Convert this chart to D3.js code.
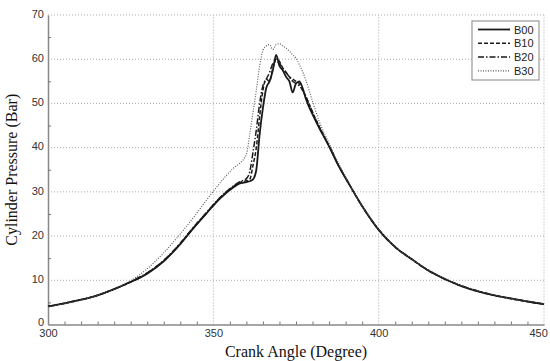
<!DOCTYPE html>
<html>
  <body style="margin:0">
    <style>
      body { background: #fff; }
      .tick text { font-family: "Liberation Sans", Arial, sans-serif; font-size: 11px; fill: #333; }
    </style>
    <script src="https://d3js.org/d3.v7.min.js"></script>
    <script type="text/javascript">
      const width = 550;
      const height = 361;
      const margin = { top: 15, right: 6, bottom: 36.5, left: 48 };

      const angles = [300, 305, 310, 315, 320, 325, 330, 335, 340, 344, 348, 352, 356, 358, 360, 361, 362, 363, 364, 365,
        366, 367, 368, 369, 370, 371, 372, 373, 374, 375, 376, 377, 378, 380, 382, 385, 388, 391, 395, 400,
        405, 410, 415, 420, 425, 430, 435, 440, 445, 450];

      const b00 = [4.1, 4.8, 5.6, 6.6, 8.0, 9.6, 11.5, 14.3, 18.2, 21.8, 25.2, 28.5, 31.0, 31.9, 32.2, 32.4, 32.8, 35.0, 43.0, 49.0,
        53.5, 55.0, 57.5, 61.0, 58.5, 57.5, 56.0, 55.0, 52.5, 54.5, 55.0, 53.5, 51.0, 47.5, 44.5, 40.3, 35.7, 31.8, 26.8, 21.4,
        17.5, 14.8, 12.2, 10.3, 8.7, 7.5, 6.6, 5.9, 5.2, 4.6];
      const b10 = [4.1, 4.8, 5.6, 6.6, 8.0, 9.6, 11.6, 14.4, 18.3, 21.9, 25.3, 28.6, 31.2, 32.1, 32.5, 32.8, 36.0, 40.0, 47.0, 53.0,
        55.5, 55.0, 58.0, 60.0, 59.5, 58.0, 57.0, 56.0, 55.5, 55.0, 54.5, 53.0, 51.5, 48.0, 44.8, 40.4, 35.8, 31.8, 26.7, 21.4,
        17.5, 14.7, 12.2, 10.3, 8.7, 7.5, 6.6, 5.8, 5.2, 4.6];
      const b20 = [4.1, 4.8, 5.6, 6.6, 8.0, 9.7, 11.7, 14.5, 18.4, 22.0, 25.4, 28.7, 31.3, 32.3, 33.0, 34.5, 39.0, 44.0, 50.0, 54.0,
        55.5, 57.0, 59.0, 59.5, 59.0, 58.0, 57.0, 56.0, 55.0, 54.5, 54.0, 53.0, 51.5, 48.0, 44.7, 40.3, 35.8, 31.9, 26.8, 21.5,
        17.6, 14.8, 12.3, 10.3, 8.8, 7.6, 6.6, 5.9, 5.2, 4.6];
      const b30 = [4.0, 4.7, 5.5, 6.6, 8.1, 9.9, 12.6, 16.2, 20.5, 24.2, 28.2, 32.0, 35.3, 36.5, 38.5, 43.0, 48.0, 53.0, 58.5, 62.0,
        63.0, 63.3, 62.2, 63.3, 63.5, 63.0, 62.5, 61.8, 61.0, 60.2, 58.8, 57.2, 55.2, 50.5, 46.0, 41.0, 36.3, 32.0, 26.8, 21.6,
        17.6, 14.8, 12.3, 10.4, 8.8, 7.6, 6.7, 5.9, 5.3, 4.7];

      const seriesNames = ['B00', 'B10', 'B20', 'B30'];
      const seriesValues = [b00, b10, b20, b30];
      const dashes = ['none', '4,2', '6,2,1.5,2', '1,1.5'];
      const strokes = ['#1a1a1a', '#1a1a1a', '#1a1a1a', '#555'];
      const strokeWidths = [1.8, 1.5, 1.5, 1.1];

      const xTicks = [300, 350, 400, 450];
      const yTicks = [0, 10, 20, 30, 40, 50, 60, 70];

      const svg = d3.select('body')
        .append('svg')
        .attr('width', width)
        .attr('height', height);

      const x = d3.scaleLinear()
        .domain([300, 450])
        .range([margin.left, width - margin.right]);

      const y = d3.scaleLinear()
        .domain([0, 70])
        .range([height - margin.bottom, margin.top]);

      // dotted grid
      svg.append('g')
        .selectAll('line')
        .data(yTicks.slice(1))
        .enter()
        .append('line')
        .attr('x1', x(300)).attr('x2', x(450))
        .attr('y1', (d) => y(d)).attr('y2', (d) => y(d))
        .attr('stroke', '#aaa').attr('stroke-width', 1).attr('stroke-dasharray', '1,2');

      svg.append('g')
        .selectAll('line')
        .data(xTicks.slice(1))
        .enter()
        .append('line')
        .attr('x1', (d) => x(d)).attr('x2', (d) => x(d))
        .attr('y1', y(0)).attr('y2', y(70))
        .attr('stroke', '#aaa').attr('stroke-width', 1).attr('stroke-dasharray', '1,2');

      // axes
      const xAxis = svg.append('g')
        .attr('transform', `translate(0,${y(0)})`)
        .call(d3.axisBottom(x).tickValues(xTicks).tickSize(0).tickPadding(5));
      xAxis.select('.domain').attr('stroke', '#888').attr('stroke-width', 1.5);
      xAxis.selectAll('.tick text').filter((d) => d === 450).attr('text-anchor', 'end').attr('dx', '0.3em');

      svg.append('g')
        .attr('transform', `translate(0,${y(0)})`)
        .call(d3.axisTop(x).tickValues(d3.range(305, 450, 5).filter((d) => d % 50 !== 0)).tickSize(3).tickFormat(''))
        .call((g) => g.select('.domain').remove())
        .selectAll('line').attr('stroke', '#777');

      const yAxis = svg.append('g')
        .attr('transform', `translate(${x(300)},0)`)
        .call(d3.axisLeft(y).tickValues(yTicks).tickSize(0).tickPadding(4));
      yAxis.select('.domain').attr('stroke', '#888').attr('stroke-width', 1.5);
      yAxis.selectAll('.tick text').attr('dy', (d) => d === 0 ? '0.05em' : '0.2em');

      svg.append('g')
        .attr('transform', `translate(${x(300)},0)`)
        .call(d3.axisRight(y).tickValues(d3.range(5, 70, 10)).tickSize(3).tickFormat(''))
        .call((g) => g.select('.domain').remove())
        .selectAll('line').attr('stroke', '#777');

      // curves
      const line = d3.line()
        .curve(d3.curveMonotoneX)
        .x((d) => x(d[0]))
        .y((d) => y(d[1]));

      svg.append('g')
        .selectAll('path')
        .data(seriesValues)
        .enter()
        .append('path')
        .attr('d', (vals) => line(angles.map((a, i) => [a, vals[i]])))
        .attr('fill', 'none')
        .attr('stroke', (d, i) => strokes[i])
        .attr('stroke-width', (d, i) => strokeWidths[i])
        .attr('stroke-dasharray', (d, i) => dashes[i])
        .attr('stroke-linejoin', 'round');

      // legend
      const legend = svg.append('g').attr('transform', 'translate(472,21)');
      legend.append('rect')
        .attr('width', 67).attr('height', 59)
        .attr('fill', '#fff').attr('stroke', '#999').attr('stroke-width', 1.2);
      const rows = legend.selectAll('g.row')
        .data(seriesNames)
        .enter()
        .append('g')
        .attr('class', 'row')
        .attr('transform', (d, i) => `translate(0,${8.5 + i * 13.8})`);
      rows.append('line')
        .attr('x1', 6).attr('x2', 38).attr('y1', 0).attr('y2', 0)
        .attr('stroke', (d, i) => strokes[i])
        .attr('stroke-width', (d, i) => strokeWidths[i])
        .attr('stroke-dasharray', (d, i) => dashes[i]);
      rows.append('text')
        .attr('x', 42).attr('y', 4)
        .attr('font-family', '"Liberation Sans", Arial, sans-serif')
        .attr('font-size', 11).attr('fill', '#222')
        .text((d) => d);

      // titles
      svg.append('text')
        .attr('x', x(375)).attr('y', 357)
        .attr('text-anchor', 'middle')
        .attr('font-family', '"Liberation Serif", "Times New Roman", serif')
        .attr('font-size', 16).attr('fill', '#111')
        .text('Crank Angle (Degree)');

      svg.append('text')
        .attr('transform', `translate(17,${y(35)}) rotate(-90)`)
        .attr('text-anchor', 'middle')
        .attr('font-family', '"Liberation Serif", "Times New Roman", serif')
        .attr('font-size', 16).attr('fill', '#111')
        .text('Cylinder Pressure (Bar)');
    </script>
  </body>
</html>
